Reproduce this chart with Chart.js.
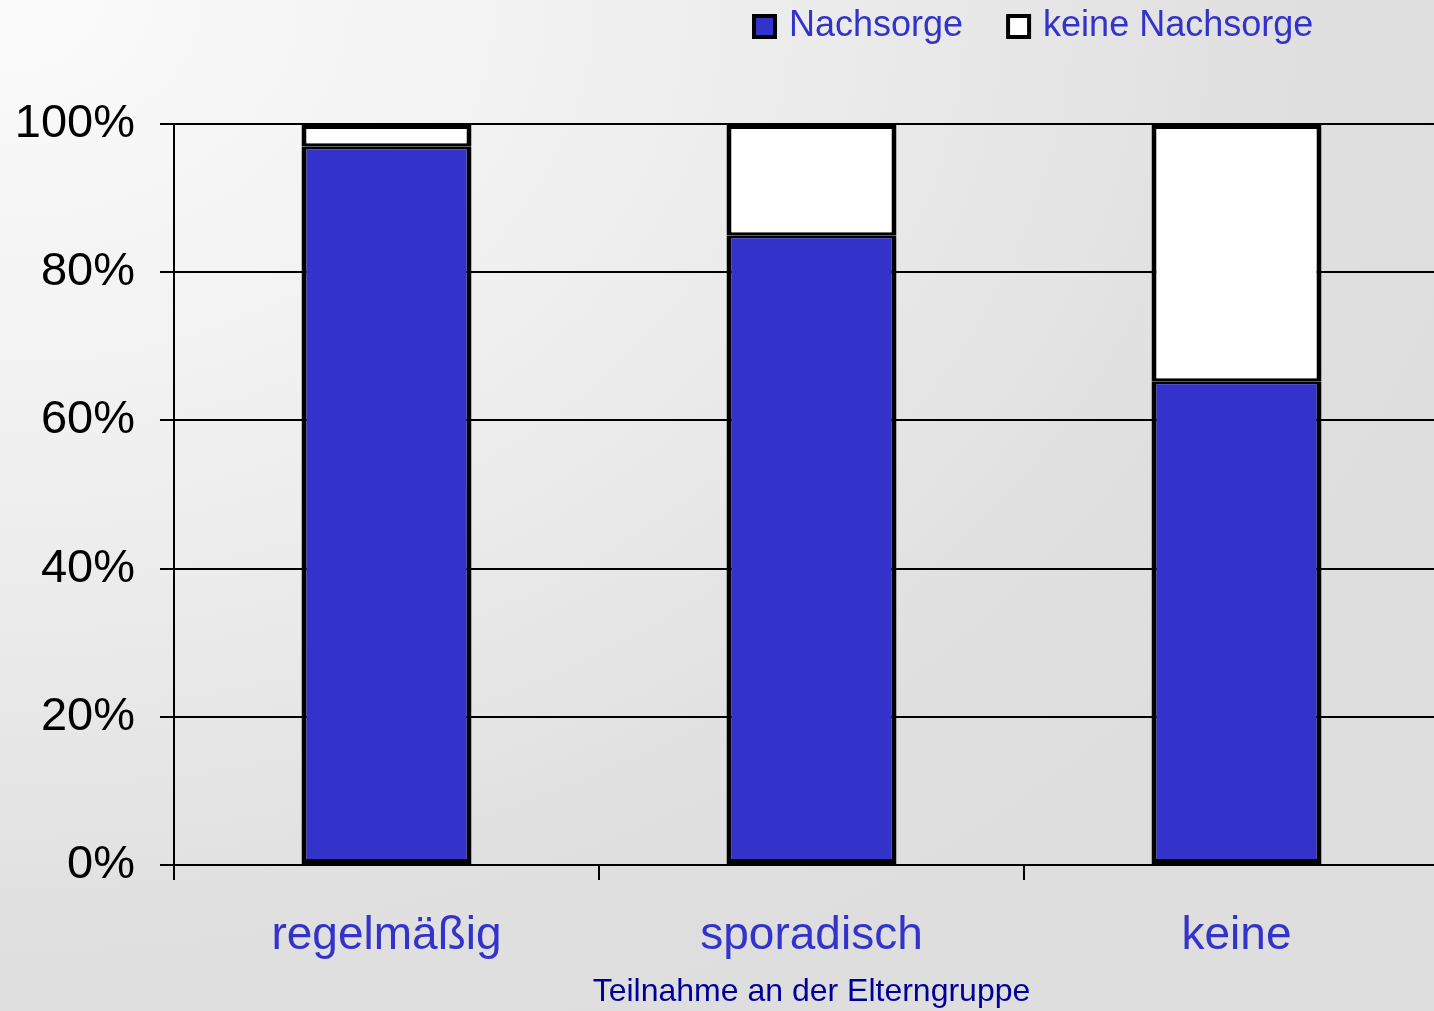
<!DOCTYPE html>
<html><head><meta charset="utf-8">
<script src="https://cdn.jsdelivr.net/npm/chart.js@4"></script>
<style>
html,body{margin:0;padding:0;overflow:hidden;width:1434px;height:1011px;}
body{background:radial-gradient(ellipse 1500px 1100px at 0px 0px,#fbfbfb 0%,#efefef 45%,#e0e0e0 85%,#dedede 100%);}
#wrap{position:absolute;left:0;top:0;width:1460px;height:1011px;}
</style></head>
<body><div id="wrap"><canvas id="c" width="1460" height="1011"></canvas></div>
<script>
const categories = ["regelmäßig", "sporadisch", "keine"];
const nachsorge = [97, 85, 65.3];
const keineNachsorge = [3, 15, 34.7];
const seriesNames = ["Nachsorge", "keine Nachsorge"];
const yTicks = [0, 20, 40, 60, 80, 100];
const xTitle = "Teilnahme an der Elterngruppe";

const BLUE = "#3333cc";
const FONT = "'Liberation Sans', Arial, sans-serif";

const legendPlugin = {
  id: "customLegend",
  afterDraw(chart) {
    const ctx = chart.ctx;
    ctx.save();
    ctx.font = "36px " + FONT;
    ctx.textBaseline = "middle";
    let x = 752;
    const y = 26;
    chart.data.datasets.forEach((ds, i) => {
      ctx.fillStyle = "#000";
      ctx.fillRect(x, y - 12, 25, 25);
      ctx.fillStyle = ds.backgroundColor;
      ctx.fillRect(x + 4, y - 8, 17, 17);
      ctx.fillStyle = BLUE;
      ctx.textAlign = "left";
      ctx.fillText(ds.label, x + 37, y);
      x += 37 + ctx.measureText(ds.label).width + 43;
    });
    ctx.restore();
  }
};

new Chart(document.getElementById("c"), {
  type: "bar",
  data: {
    labels: categories,
    datasets: [
      { label: seriesNames[0], data: nachsorge, backgroundColor: BLUE, borderColor: "#000",
        borderWidth: {left: 5, right: 5, bottom: 5, top: 3}, borderSkipped: false },
      { label: seriesNames[1], data: keineNachsorge, backgroundColor: "#ffffff", borderColor: "#000",
        borderWidth: {left: 5, right: 5, bottom: 3, top: 5}, borderSkipped: false }
    ]
  },
  options: {
    responsive: false,
    animation: false,
    devicePixelRatio: 1,
    layout: { padding: { top: 124, right: 11, bottom: 0, left: 0 } },
    datasets: { bar: { categoryPercentage: 1.0, barPercentage: 0.4 } },
    plugins: { legend: { display: false }, tooltip: { enabled: false } },
    scales: {
      x: {
        stacked: true,
        offset: true,
        grid: { display: true, offset: true, drawOnChartArea: false, drawTicks: true, tickLength: 15, color: "#000", lineWidth: 2 },
        border: { display: false },
        ticks: { color: BLUE, font: { family: FONT, size: 46 }, padding: 29, maxRotation: 0 },
        title: { display: true, text: xTitle, color: "#000099", font: { family: FONT, size: 32 }, padding: { top: 4, bottom: 0 } },
        afterFit(scale) { scale.height = 146; }
      },
      y: {
        stacked: true,
        min: 0, max: 100,
        afterBuildTicks(scale) { scale.ticks = yTicks.map(v => ({ value: v })); },
        grid: { color: "#000", lineWidth: 2, drawTicks: true, tickLength: 14 },
        border: { display: true, color: "#000", width: 2 },
        ticks: { color: "#000", font: { family: FONT, size: 47 }, padding: 25, callback: v => v + "%" },
        afterFit(scale) { scale.width = 174; }
      }
    }
  },
  plugins: [legendPlugin]
});
</script></body></html>
